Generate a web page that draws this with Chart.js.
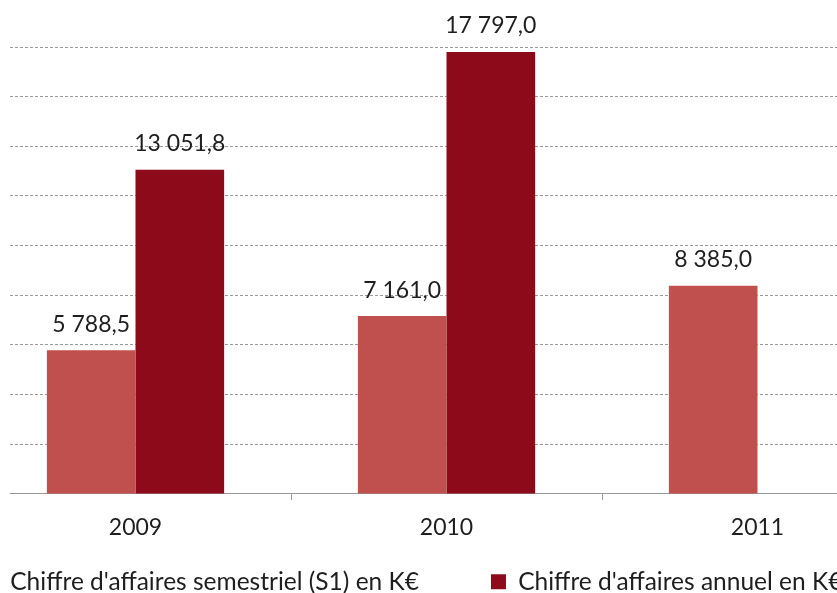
<!DOCTYPE html>
<html lang="fr">
<head>
<meta charset="UTF-8">
<title>Chiffre d'affaires</title>
<script src="https://cdn.jsdelivr.net/npm/chart.js"></script>
<style>
  html, body { margin: 0; padding: 0; background: #fff; overflow: hidden; }
  #wrap { position: absolute; left: -89px; top: 0; width: 1102px; height: 662px; }
  #mask { position: absolute; left: 0; top: 0; width: 10px; height: 500px; background: #fff; }
</style>
</head>
<body>
<div id="wrap"><canvas id="caChart"></canvas></div>
<div id="mask"></div>

<script>
    // Données (K€)
    const years = ['2009', '2010', '2011'];
    const semestriel = [5788.5, 7161.0, 8385.0];
    const annuel = [13051.8, 17797.0, null];
    const seriesNames = ["Chiffre d'affaires semestriel (S1) en K€", "Chiffre d'affaires annuel en K€"];

    const FONT = 'Lato';
    const TEXT = '#1e1e1e';

    // 13051.8 -> "13 051,8"
    function fmt(v) {
        const parts = v.toFixed(1).split('.');
        return parts[0].replace(/\B(?=(\d{3})+(?!\d))/g, ' ') + ',' + parts[1];
    }

    // valeurs au-dessus des barres
    const valueLabels = {
        id: 'valueLabels',
        afterDatasetsDraw(chart) {
            const ctx = chart.ctx;
            ctx.save();
            ctx.font = '23px ' + FONT;
            ctx.fillStyle = TEXT;
            ctx.textAlign = 'center';
            ctx.textBaseline = 'middle';
            chart.data.datasets.forEach((ds, i) => {
                chart.getDatasetMeta(i).data.forEach((bar, j) => {
                    if (ds.data[j] == null) return;
                    ctx.fillText(fmt(ds.data[j]), bar.x, bar.y - 26);
                });
            });
            ctx.restore();
        }
    };

    // remonte la légende sous l'axe
    const legendShift = {
        id: 'legendShift',
        afterLayout(chart) {
            chart.legend.top -= 58;
            chart.legend.bottom -= 58;
        }
    };

    const ctx = document.getElementById('caChart').getContext('2d');
    new Chart(ctx, {
        type: 'bar',
        data: {
            labels: years,
            datasets: [
                {
                    label: seriesNames[0],
                    data: semestriel,
                    backgroundColor: '#C0504D'
                },
                {
                    label: seriesNames[1],
                    data: annuel,
                    backgroundColor: '#8C0A1A'
                }
            ]
        },
        options: {
            responsive: true,
            maintainAspectRatio: false,
            animation: false,
            categoryPercentage: 0.57,
            barPercentage: 1,
            layout: { padding: { top: 47, left: 0, right: 0, bottom: 0 } },
            plugins: {
                tooltip: { enabled: false },
                legend: {
                    position: 'bottom',
                    align: 'start',
                    labels: {
                        boxWidth: 15,
                        boxHeight: 15,
                        padding: 72,
                        color: TEXT,
                        font: { family: FONT, size: 24.5 }
                    }
                }
            },
            scales: {
                x: {
                    offset: true,
                    grid: {
                        display: true,
                        drawOnChartArea: false,
                        drawTicks: true,
                        tickLength: 6,
                        color: '#999'
                    },
                    border: { display: true, color: '#999' },
                    ticks: {
                        color: TEXT,
                        padding: 14,
                        font: { family: FONT, size: 23 }
                    }
                },
                y: {
                    min: 0,
                    max: 18000,
                    ticks: { display: false, stepSize: 2000 },
                    grid: {
                        drawTicks: false,
                        color: c => c.tick.value === 0 ? 'rgba(0,0,0,0)' : '#9a9a9a'
                    },
                    border: { display: false, dash: [3, 2] },
                    afterFit(scale) { scale.width = 69; }
                },
                yR: {
                    position: 'right',
                    display: true,
                    ticks: { display: false },
                    grid: { display: false },
                    border: { display: false },
                    afterFit(scale) { scale.width = 100; }
                }
            }
        },
        plugins: [valueLabels, legendShift]
    });
</script>
</body>
</html>
